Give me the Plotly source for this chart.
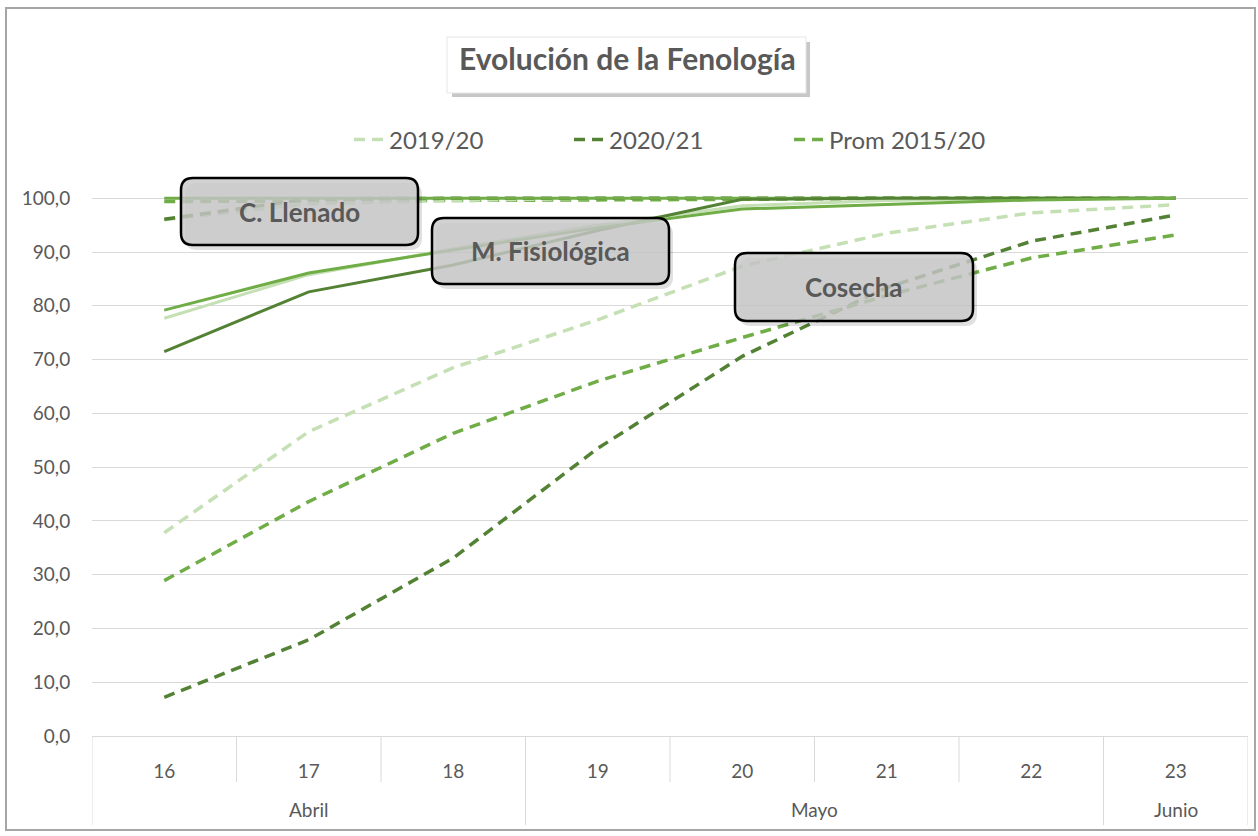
import plotly.graph_objects as go

# ---------------- data ----------------
days = ["16", "17", "18", "19", "20", "21", "22", "23"]
months = ["Abril", "Abril", "Abril", "Mayo", "Mayo", "Mayo", "Mayo", "Junio"]
seasons = ["2019/20", "2020/21", "Prom 2015/20"]

techo_100 = [100.0, 100.0, 100.0, 100.0, 100.0, 100.0, 100.0, 100.0]

llenado_1920 = [96.0, 99.0, 99.6, 100.0, 100.0, 100.0, 100.0, 100.0]
llenado_2021 = [96.1, 99.9, 100.0, 100.0, 100.0, 100.0, 100.0, 100.0]
llenado_prom = [99.4, 99.5, 99.5, 99.6, 99.8, 100.0, 100.0, 100.0]

fisio_1920 = [77.7, 85.8, 90.6, 95.0, 98.6, 99.6, 100.0, 100.0]
fisio_2021 = [71.5, 82.6, 87.6, 94.0, 99.8, 100.0, 100.0, 100.0]
fisio_prom = [79.2, 86.1, 90.4, 94.5, 98.0, 98.9, 99.7, 100.0]

cosecha_1920 = [37.8, 56.6, 68.5, 77.4, 87.4, 93.5, 97.3, 98.8]
cosecha_2021 = [7.2, 17.9, 33.1, 53.5, 70.6, 83.4, 92.0, 96.9]
cosecha_prom = [28.9, 43.6, 56.3, 66.0, 74.1, 81.9, 88.9, 93.2]

stage_labels = ["C. Llenado", "M. Fisiológica", "Cosecha"]

# ---------------- style ----------------
FONT = "Lato, 'Open Sans', sans-serif"
TXT = "#595959"
GRID = "#d9d9d9"
C_LIGHT = "#c5e0b4"
C_DARK = "#548235"
C_MED = "#70ad47"
DASH = "11px,7px"

W, H = 1258, 836
ML, MR, MT, MB = 92, 10, 196, 100
PW, PH = W - ML - MR, H - MT - MB


def px(xp):
    return (xp - ML) / PW


def py(yp):
    return (H - MB - yp) / PH


fig = go.Figure()

series = [
    (llenado_prom, C_MED, DASH, None),
    (llenado_1920, C_LIGHT, DASH, None),
    (llenado_2021, C_DARK, DASH, None),
    (techo_100, C_MED, "solid", None),
    (fisio_1920, C_LIGHT, "solid", None),
    (fisio_2021, C_DARK, "solid", None),
    (fisio_prom, C_MED, "solid", None),
    (cosecha_1920, C_LIGHT, DASH, seasons[0]),
    (cosecha_2021, C_DARK, DASH, seasons[1]),
    (cosecha_prom, C_MED, DASH, seasons[2]),
]
for vals, col, dash, name in series:
    fig.add_trace(go.Scatter(
        x=days, y=vals, mode="lines",
        line=dict(color=col, width=3.5 if dash != "solid" else 3, dash=dash),
        name=name if name else "",
        showlegend=name is not None,
        hoverinfo="skip",
    ))

shapes = []
annotations = []

# outer chart border
shapes.append(dict(type="rect", xref="paper", yref="paper",
                   x0=px(6), x1=px(1255), y0=py(830), y1=py(8),
                   line=dict(color="#a6a6a6", width=2), fillcolor="rgba(0,0,0,0)",
                   layer="below"))

# category dividers
n = len(days)
for i in range(n + 1):
    is_month_edge = i == 0 or i == n or months[i] != months[i - 1]
    shapes.append(dict(type="line", xref="x", yref="paper",
                       x0=i - 0.5, x1=i - 0.5, y0=0,
                       y1=py(825) if is_month_edge else py(782),
                       line=dict(color=GRID, width=1)))

# month labels
groups = []
for i, m in enumerate(months):
    if not groups or groups[-1][0] != m:
        groups.append([m, i, i])
    else:
        groups[-1][2] = i
for m, a, b in groups:
    annotations.append(dict(x=(a + b) / 2, y=py(809), xref="x", yref="paper",
                            text=m, showarrow=False, yanchor="middle",
                            font=dict(family=FONT, size=19, color=TXT)))

# title box with shadow
shapes.append(dict(type="rect", xref="paper", yref="paper",
                   x0=px(452), x1=px(810), y0=py(97), y1=py(42),
                   line=dict(width=0), fillcolor="rgba(0,0,0,0.22)"))
shapes.append(dict(type="rect", xref="paper", yref="paper",
                   x0=px(447), x1=px(806), y0=py(93), y1=py(37),
                   line=dict(color="#e6e6e6", width=1), fillcolor="white"))
annotations.append(dict(x=px(627), y=py(58), xref="paper", yref="paper",
                        text="<b>Evolución de la Fenología</b>", showarrow=False,
                        yanchor="middle", xanchor="center",
                        font=dict(family=FONT, size=30, color=TXT)))


def rrect(x0, y0, x1, y1, r):
    rx, ry = r / PW, r / PH
    X0, X1 = px(x0), px(x1)
    Y0, Y1 = py(y1), py(y0)  # bottom, top in paper
    return (f"M {X0+rx},{Y0} L {X1-rx},{Y0} Q {X1},{Y0} {X1},{Y0+ry} "
            f"L {X1},{Y1-ry} Q {X1},{Y1} {X1-rx},{Y1} L {X0+rx},{Y1} "
            f"Q {X0},{Y1} {X0},{Y1-ry} L {X0},{Y0+ry} Q {X0},{Y0} {X0+rx},{Y0} Z")


boxes = [(181, 178, 418, 245), (432, 218, 669, 284), (735, 253, 973, 321)]
for (x0, y0, x1, y1), lab in zip(boxes, stage_labels):
    shapes.append(dict(type="path", xref="paper", yref="paper",
                       path=rrect(x0 + 4, y0 + 5, x1 + 4, y1 + 5, 12),
                       line=dict(width=0), fillcolor="rgba(0,0,0,0.12)", layer="above"))
    shapes.append(dict(type="path", xref="paper", yref="paper",
                       path=rrect(x0, y0, x1, y1, 12),
                       line=dict(color="black", width=2.5),
                       fillcolor="rgba(200,200,200,0.82)", layer="above"))
    annotations.append(dict(x=px((x0 + x1) / 2), y=py((y0 + y1) / 2), xref="paper", yref="paper",
                            text=f"<b>{lab}</b>", showarrow=False,
                            xanchor="center", yanchor="middle",
                            font=dict(family=FONT, size=26, color=TXT)))

fig.update_layout(
    width=W, height=H,
    margin=dict(l=ML, r=MR, t=MT, b=MB),
    paper_bgcolor="white", plot_bgcolor="white",
    separators=",.",
    font=dict(family=FONT, color=TXT, size=19),
    showlegend=True,
    legend=dict(orientation="h", x=px(679), y=py(140), xanchor="center", yanchor="middle",
                font=dict(family=FONT, size=24, color=TXT),
                entrywidth=175, entrywidthmode="pixels",
                bgcolor="rgba(0,0,0,0)"),
    shapes=shapes,
    annotations=annotations,
    xaxis=dict(type="category", categoryorder="array", categoryarray=days,
               range=[-0.5, n - 0.5], showgrid=False, zeroline=False,
               showline=True, linecolor=GRID, linewidth=1,
               ticks="outside", ticklen=18, tickcolor="rgba(0,0,0,0)",
               tickfont=dict(family=FONT, size=19, color=TXT), fixedrange=True),
    yaxis=dict(range=[0, 100 + (198.3 - MT) / 5.382], dtick=10, tick0=0,
               tickformat=".1f", showgrid=True, gridcolor=GRID, gridwidth=1,
               zeroline=False, showline=False,
               ticks="outside", ticklen=17, tickcolor="rgba(0,0,0,0)",
               tickfont=dict(family=FONT, size=19, color=TXT), fixedrange=True),
)

fig.write_html("out.html", config={"displayModeBar": False},
               post_script="document.body.style.margin='0';")
